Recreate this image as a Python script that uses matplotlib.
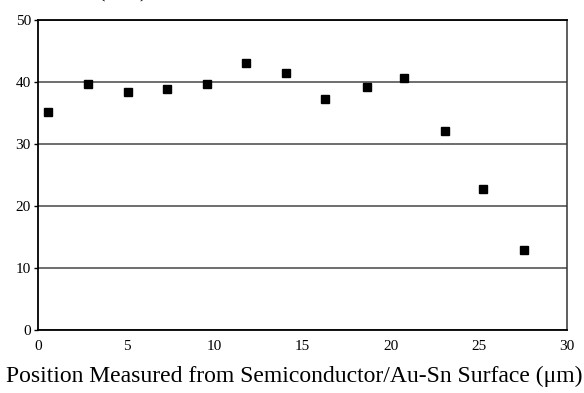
import matplotlib
matplotlib.use("Agg")
import matplotlib.pyplot as plt

position_um = [0.56, 2.80, 5.10, 7.32, 9.59, 11.79, 14.06, 16.30, 18.68, 20.77, 23.10, 25.27, 27.55]
composition = [35.2, 39.7, 38.4, 38.8, 39.7, 43.1, 41.5, 37.2, 39.2, 40.7, 32.1, 22.7, 12.9]
x_ticks = [0, 5, 10, 15, 20, 25, 30]
y_ticks = [0, 10, 20, 30, 40, 50]
x_label = "Position Measured from Semiconductor/Au-Sn Surface (\u03bcm)"
y_label_fragment = "(at%)"

plt.rcParams['font.family'] = ['Liberation Serif', 'DejaVu Serif']

fig = plt.figure(figsize=(5.84, 3.93), dpi=100)
ax = fig.add_axes([0.0659, 0.1603, 0.9045, 0.7887])

ax.set_xlim(0, 30)
ax.set_ylim(0, 50)
ax.set_xticks(x_ticks)
ax.set_yticks(y_ticks)
ax.yaxis.grid(True, color='#555555', linewidth=1.2)
ax.set_axisbelow(True)

ax.plot(position_um, composition, linestyle='none', marker='s', markersize=5.6,
        color='black', zorder=3)

for s in ['left', 'bottom', 'top']:
    ax.spines[s].set_linewidth(1.3)
    ax.spines[s].set_color('black')
ax.spines['right'].set_linewidth(1.1)
ax.spines['right'].set_color('#333333')

ax.tick_params(axis='both', labelsize=11, width=1, direction='out')
ax.tick_params(axis='y', length=3, pad=2.5)
ax.tick_params(axis='x', length=0, pad=7)

# x-axis title (runs slightly past the left edge, as in the reference)
fig.text(583 / 584, 11 / 393, x_label, fontsize=17, ha='right', va='baseline')
# y-axis title mostly cut off at the top edge
fig.text(123 / 584, 1.006, y_label_fragment, fontsize=16, ha='center', va='baseline')

fig.savefig("out.png", dpi=100)
